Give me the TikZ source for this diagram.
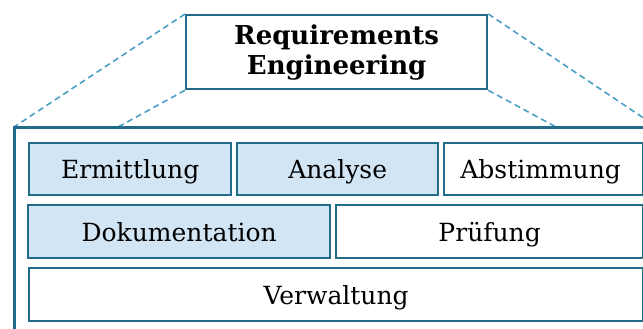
\documentclass[tikz,border=0pt]{standalone}
\usepackage{fontspec}
\setmainfont{DejaVu Serif}
\definecolor{frame}{HTML}{226C8A}
\definecolor{lightfill}{HTML}{D2E5F4}
\definecolor{dashc}{HTML}{4A9FC6}
\tikzset{
  box/.style={draw=frame, line width=2.3pt, anchor=north west, inner sep=0pt, font=\fontsize{25}{30}\selectfont, text=black, text height=24pt, text depth=5pt},
  bluebox/.style={box, fill=lightfill},
  whitebox/.style={box, fill=white},
  dashline/.style={draw=dashc, line width=1.6pt, dash pattern=on 6pt off 4pt},
}
\begin{document}
\begin{tikzpicture}[x=1pt,y=-1pt]
\useasboundingbox (0,0) rectangle (643,329);
\clip (0,0) rectangle (643,329);
\fill[white] (0,0) rectangle (643,329);
% top box
\node[draw=frame, line width=2.3pt, anchor=north west, inner sep=0pt, minimum width=301pt, minimum height=74pt, align=center, font=\bfseries\fontsize{26}{30}\selectfont] (re) at (185,14) {Requirements\\Engineering};
% frame
\coordinate (fl) at (14,127);
\coordinate (fr) at (657,127);
\coordinate (il) at (118,127);
\coordinate (ir) at (556,127);
\draw[dashline] (re.north west) -- (fl);
\draw[dashline] (re.south west) -- (il);
\draw[dashline] (re.north east) -- (fr);
\draw[dashline] (re.south east) -- (ir);
\draw[draw=frame, line width=3pt] (14,340) -- (fl) -- (fr);
% row 1
\node[bluebox, minimum width=202pt, minimum height=52pt] (erm) at (28,142) {Ermittlung};
\node[bluebox, minimum width=201pt, minimum height=52pt] (ana) at (236,142) {Analyse};
\node[whitebox, minimum width=199pt, minimum height=52pt, xshift=-3pt] (abs) at (446,142) {\hspace*{-6pt}Abstimmung};
% row 2
\node[bluebox, minimum width=302pt, minimum height=53pt] (dok) at (27,204) {Dokumentation};
\node[whitebox, minimum width=307pt, minimum height=53pt] (pru) at (335,204) {Prüfung};
% row 3
\node[whitebox, minimum width=614pt, minimum height=53pt] (ver) at (28,267) {Verwaltung};
\end{tikzpicture}
\end{document}
